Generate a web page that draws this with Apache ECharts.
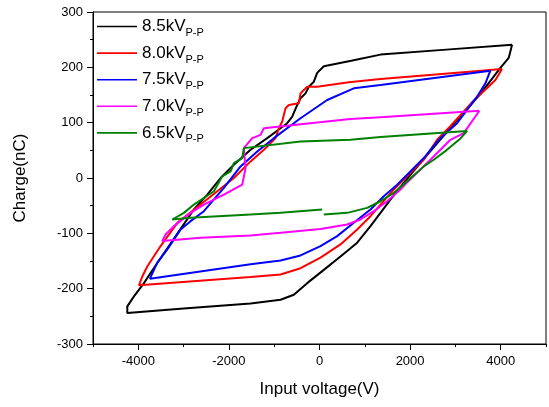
<!DOCTYPE html>
<html>
<head>
<meta charset="utf-8">
<script src="https://cdn.jsdelivr.net/npm/echarts@6/dist/echarts.min.js"></script>
<style>
  html, body { margin: 0; padding: 0; background: #fff; }
  #chart { width: 549px; height: 407px; }
</style>
</head>
<body>
<div id="chart"></div>
<script>
// series names
const seriesNames = ['8.5kV', '8.0kV', '7.5kV', '7.0kV', '6.5kV']
const seriesColors = ['#000000', '#ff0000', '#0000ff', '#ff00ff', '#008000']

// 8.5 kVp-p loop
const v85 = [4251, 2800, 1346, 700, 96, -51, -125, -236, -309, -419, -492, -602, -713, -860, -1154, -1522, -1890, -2184, -2477, -2772, -3100, -3400, -3700, -3875, -4096, -4243, -4243, -3000, -1522, -860, -567, -272, 95, 463, 832, 1125, 1346, 1566, 1860, 2350, 2853, 3552, 3993, 4177, 4251]
const q85 = [241, 232, 223, 212, 202, 190, 174, 165, 153, 144, 132, 111, 99, 90, 72, 51, 24, 0, -30, -57, -96, -132, -168, -190, -214, -232, -244, -236, -227, -220, -211, -190, -166, -142, -117, -87, -63, -39, -9, 39, 87, 152, 199, 217, 241]

// 8.0 kVp-p loop
const v80 = [4030, 2700, 1346, 647, -51, -272, -419, -456, -677, -750, -823, -897, -970, -1228, -1522, -1890, -2257, -2625, -3139, -3508, -3802, -3912, -3985, -1522, -860, -419, 22, 463, 832, 1125, 1346, 1640, 1934, 2302, 2596, 2883, 3346, 3883, 4030]
const q80 = [197, 188, 179, 173, 165, 165, 153, 135, 132, 126, 102, 90, 72, 51, 30, 0, -24, -48, -81, -123, -160, -178, -194, -179, -174.5, -163, -144, -120, -93, -69, -48, -21, 3, 33, 69, 93, 135, 177, 197]

// 7.5 kVp-p loop
const v75 = [3772, 1346, 757, 169, -419, -1008, -1374, -1743, -2111, -2552, -2846, -3066, -3360, -3581, -3743, -1522, -860, -419, 22, 390, 757, 1125, 1419, 1714, 1934, 2302, 2632, 3037, 3478, 3662, 3772]
const q75 = [194, 168, 162, 141, 108, 72, 48, 21, -18, -60, -78, -93, -129, -153, -182, -156, -149, -140, -123, -105, -81, -57, -33, -12, 6, 36, 69, 99, 147, 171, 194]

// 7.0 kVp-p loop
const v70 = [3530, 1346, 684, -419, -1228, -1302, -1485, -1670, -1632, -1705, -2111, -2552, -2846, -3214, -3397, -3471, -2625, -1522, -860, 22, 611, 904, 1198, 1493, 1787, 1934, 2449, 2890, 3184, 3530]
const q70 = [121.5, 110, 106.5, 97, 90, 78, 72, 54, 18, -12, -30, -48, -63, -87, -102, -114, -108, -104, -99, -92, -84, -75, -60, -42, -21, -8, 33, 69, 81, 121.5]

// 6.5 kVp-p loop (not closed)
const v65 = [95, 611, 1051, 1346, 1640, 1934, 2302, 2522, 2800, 3080, 3258, 1346, 684, -419, -1670, -1705, -1890, -1963, -2147, -2331, -2772, -2993, -3250, -2846, -1522, -860, 59]
const q65 = [-66, -63, -54, -42, -27, -6, 21, 33, 50, 69, 85, 74, 69, 66, 54, 36, 27, 12, 3, -24, -48, -63, -75, -72, -66, -63, -57]

const xMajor = [-4000, -2000, 0, 2000, 4000]

const loops = [[v85, q85], [v80, q80], [v75, q75], [v70, q70], [v65, q65]]

const font = '"Liberation Sans", Arial, sans-serif'

const chart = echarts.init(document.getElementById('chart'))

chart.setOption({
  animation: false,
  backgroundColor: '#fff',
  grid: {
    left: 93,
    right: 3,
    top: 12,
    bottom: 63,
    show: true,
    borderColor: '#000',
    borderWidth: 1,
    backgroundColor: 'transparent'
  },
  legend: {
    orient: 'vertical',
    left: 97,
    top: 18,
    padding: 0,
    itemWidth: 40,
    itemHeight: 14,
    itemGap: 6.1,
    icon: 'path://M0,0 L40,0 L40,1.6 L0,1.6 Z',
    data: seriesNames,
    formatter: name => '{a|' + name + '}{b|P-P}',
    textStyle: {
      fontFamily: font,
      color: '#000',
      rich: {
        a: { fontSize: 17, lineHeight: 24, fontFamily: font, color: '#000' },
        b: { fontSize: 11, lineHeight: 10, verticalAlign: 'bottom', fontFamily: font, color: '#000' }
      }
    }
  },
  xAxis: [
    {
      type: 'value',
      min: -5000,
      max: 5000,
      interval: 1000,
      name: 'Input voltage(V)',
      nameLocation: 'middle',
      nameGap: 37,
      nameTextStyle: { fontFamily: font, fontSize: 17, color: '#000' },
      axisLine: { onZero: false, lineStyle: { color: '#000', width: 1 } },
      axisTick: { inside: false, length: 3, lineStyle: { color: '#000' } },
      axisLabel: {
        fontFamily: font,
        fontSize: 13,
        color: '#000',
        margin: 11,
        formatter: v => (xMajor.includes(v) ? String(v) : '')
      },
      splitLine: { show: false }
    },
    {
      type: 'value',
      position: 'bottom',
      min: -5000,
      max: 5000,
      interval: 1000,
      axisLine: { show: false, onZero: false },
      axisTick: { length: 6, customValues: xMajor, lineStyle: { color: '#000' } },
      axisLabel: { show: false },
      splitLine: { show: false }
    }
  ],
  yAxis: {
    type: 'value',
    min: -300,
    max: 300,
    interval: 100,
    name: 'Charge(nC)',
    nameLocation: 'middle',
    nameGap: 64,
    nameTextStyle: { fontFamily: font, fontSize: 17, color: '#000' },
    axisLine: { onZero: false, lineStyle: { color: '#000', width: 1 } },
    axisTick: { inside: false, length: 6, lineStyle: { color: '#000' } },
    minorTick: { show: true, splitNumber: 2, length: 3, lineStyle: { color: '#000' } },
    axisLabel: { fontFamily: font, fontSize: 13, color: '#000', margin: 10 },
    splitLine: { show: false }
  },
  series: loops.map(([vs, qs], i) => ({
    name: seriesNames[i],
    type: 'line',
    symbol: 'none',
    color: seriesColors[i],
    lineStyle: { color: seriesColors[i], width: 2 },
    data: vs.map((v, k) => [v, qs[k]])
  }))
})
</script>
</body>
</html>
